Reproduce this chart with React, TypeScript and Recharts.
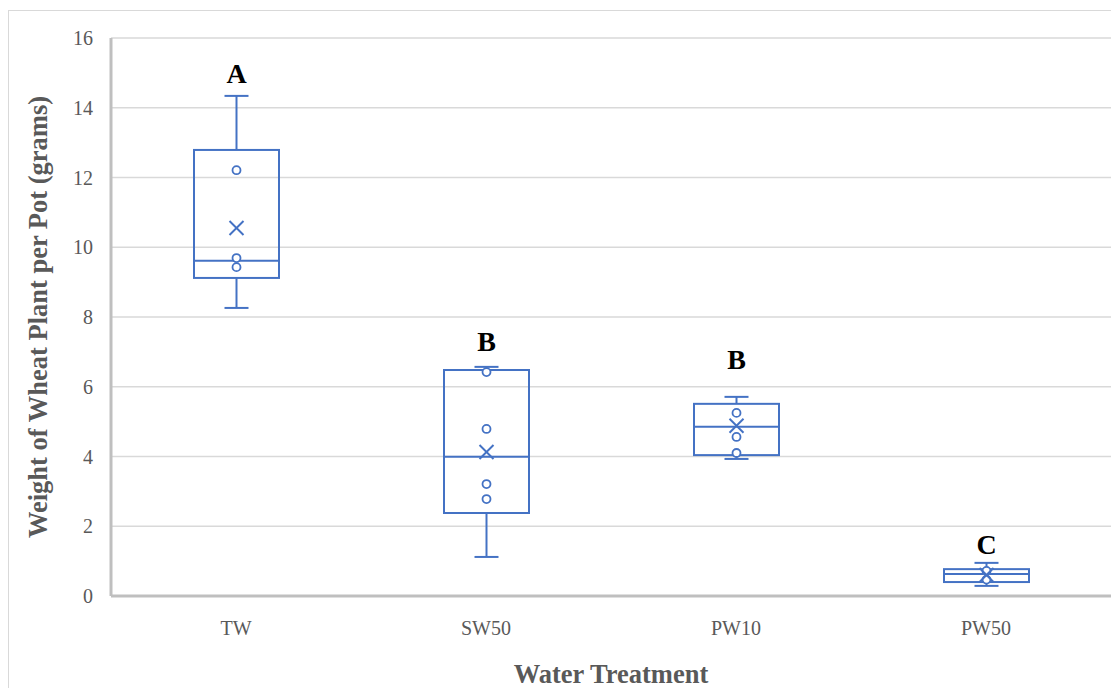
import { Bar, CartesianGrid, ComposedChart, XAxis, YAxis } from "recharts";

const categories = ["TW", "SW50", "PW10", "PW50"];
const whiskerLow = [8.26, 1.12, 3.93, 0.29];
const q1 = [9.12, 2.38, 4.04, 0.4];
const median = [9.61, 3.99, 4.85, 0.63];
const q3 = [12.79, 6.48, 5.51, 0.77];
const whiskerHigh = [14.34, 6.57, 5.71, 0.95];
const mean = [10.55, 4.13, 4.88, 0.6];
const innerPoints = [
  [12.21, 9.69, 9.43],
  [6.42, 4.79, 3.21, 2.78],
  [5.25, 4.56, 4.1],
  [0.72, 0.47],
];
const groupLetters = ["A", "B", "B", "C"];
const letterAt = [14.71, 7.03, 6.51, 1.2];

const yTicks = [0, 2, 4, 6, 8, 10, 12, 14, 16];

const data = categories.map((name, i) => ({
  name,
  low: whiskerLow[i],
  q1: q1[i],
  median: median[i],
  q3: q3[i],
  high: whiskerHigh[i],
  mean: mean[i],
  points: innerPoints[i],
  letter: groupLetters[i],
  letterAt: letterAt[i],
}));

const BLUE = "#4472C4";
const FONT = "'Liberation Serif', 'Times New Roman', serif";

function BoxShape(props: any) {
  const { x, y, width, height, payload } = props;
  const top = Math.min(y, y + height);
  const span = Math.abs(height);
  const range = payload.high - payload.low;
  // map a value into pixels using the bar's own extent
  const py = (v: number) => top + ((payload.high - v) / range) * span;
  const cx = x + width / 2;
  const cap = 12;
  const xs = 7;
  const my = py(payload.mean);

  return (
    <g>
      <line x1={cx} x2={cx} y1={py(payload.high)} y2={py(payload.q3)} stroke={BLUE} strokeWidth={2} />
      <line x1={cx} x2={cx} y1={py(payload.q1)} y2={py(payload.low)} stroke={BLUE} strokeWidth={2} />
      <line x1={cx - cap} x2={cx + cap} y1={py(payload.high)} y2={py(payload.high)} stroke={BLUE} strokeWidth={2} />
      <line x1={cx - cap} x2={cx + cap} y1={py(payload.low)} y2={py(payload.low)} stroke={BLUE} strokeWidth={2} />
      <rect
        x={x}
        y={py(payload.q3)}
        width={width}
        height={py(payload.q1) - py(payload.q3)}
        fill="none"
        stroke={BLUE}
        strokeWidth={2}
      />
      <line x1={x} x2={x + width} y1={py(payload.median)} y2={py(payload.median)} stroke={BLUE} strokeWidth={2} />
      {payload.points.map((p: number, i: number) => (
        <circle key={i} cx={cx} cy={py(p)} r={4} fill="#fff" stroke={BLUE} strokeWidth={1.8} />
      ))}
      <line x1={cx - xs} x2={cx + xs} y1={my - xs} y2={my + xs} stroke={BLUE} strokeWidth={2} />
      <line x1={cx - xs} x2={cx + xs} y1={my + xs} y2={my - xs} stroke={BLUE} strokeWidth={2} />
      <text
        x={cx}
        y={py(payload.letterAt)}
        textAnchor="middle"
        fontFamily={FONT}
        fontWeight="bold"
        fontSize={28}
        fill="#000"
      >
        {payload.letter}
      </text>
    </g>
  );
}

export default function App() {
  return (
    <div style={{ position: "relative", width: 1111, height: 680 }}>
      <div
        style={{
          position: "absolute",
          top: 2,
          left: 0,
          width: 1111,
          height: 678,
          borderTop: "1px solid #D9D9D9",
          borderLeft: "1px solid #D9D9D9",
          boxSizing: "border-box",
        }}
      />
      <div style={{ position: "absolute", top: 0, left: 0 }}>
        <ComposedChart
          width={1111}
          height={680}
          data={data}
          margin={{ top: 30, right: 8, bottom: 0, left: 20 }}
        >
          <CartesianGrid vertical={false} stroke="#D9D9D9" strokeWidth={1.5} />
          <XAxis
            dataKey="name"
            height={92}
            tickLine={false}
            axisLine={{ stroke: "#BFBFBF", strokeWidth: 3 }}
            tickMargin={19}
            tick={{ fill: "#595959", fontSize: 20, fontFamily: FONT }}
            label={{
              value: "Water Treatment",
              position: "insideBottom",
              offset: 5,
              style: { fill: "#595959", fontSize: 26.5, fontWeight: "bold", fontFamily: FONT },
            }}
          />
          <YAxis
            width={83}
            domain={[0, 16]}
            ticks={yTicks}
            interval={0}
            tickLine={false}
            axisLine={{ stroke: "#BFBFBF", strokeWidth: 3 }}
            tickMargin={12}
            tick={{ fill: "#595959", fontSize: 20, fontFamily: FONT }}
            label={{
              value: "Weight of Wheat Plant per Pot (grams)",
              angle: -90,
              position: "insideLeft",
              offset: 10,
              style: {
                fill: "#595959",
                fontSize: 26.5,
                fontWeight: "bold",
                fontFamily: FONT,
                textAnchor: "middle",
              },
            }}
          />
          <Bar
            dataKey={(d: any) => [d.low, d.high]}
            barSize={85}
            shape={BoxShape}
            isAnimationActive={false}
          />
        </ComposedChart>
      </div>
    </div>
  );
}
